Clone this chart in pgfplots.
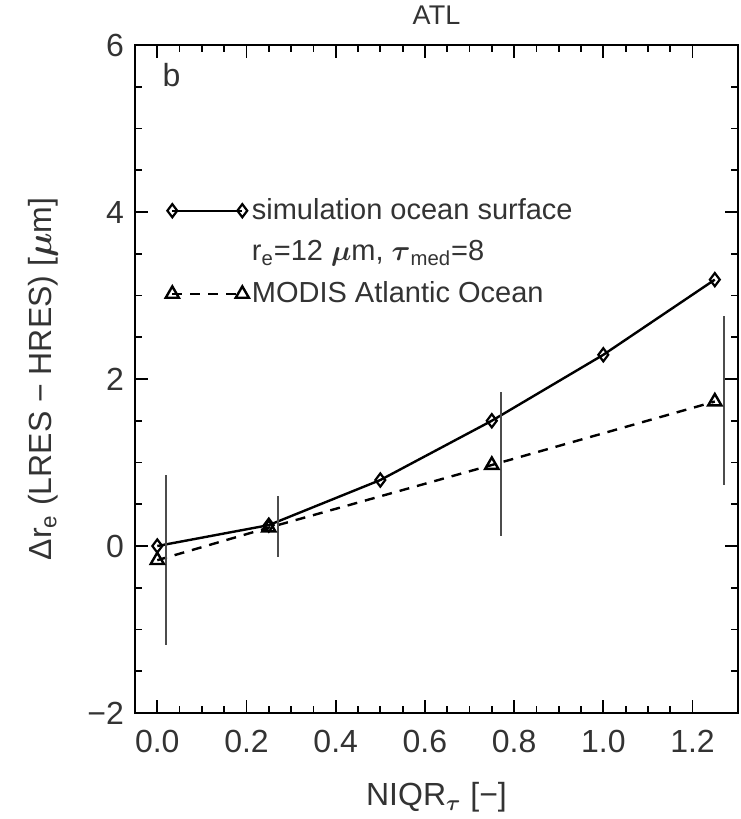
\documentclass[border=0pt]{standalone}
\usepackage{pgfplots}
\pgfplotsset{compat=1.18}
\usepackage{amsmath}
\usepackage{fontspec}
\setmainfont{Liberation Sans}
\usetikzlibrary{calc}
\begin{document}
\begin{tikzpicture}
\begin{axis}[
  scale only axis, width=301.5pt, height=334pt,
  xmin=-0.05, xmax=1.302, ymin=-2, ymax=6,
  xtick={0,0.2,0.4,0.6,0.8,1.0,1.2},
  xticklabels={0.0,0.2,0.4,0.6,0.8,1.0,1.2},
  ytick={-2,0,2,4,6}, yticklabels={−2,0,2,4,6},
  minor x tick num=3, minor y tick num=3,
  tick align=inside, major tick length=6.5pt, minor tick length=3.5pt,
  axis line style={line width=1pt},
  every tick/.style={black, line width=0.9pt},
  tick label style={font=\fontsize{16}{16}\selectfont, text=black!80},
  xticklabel style={yshift=-5pt},
  yticklabel style={xshift=-2pt},
  title={ATL},
  title style={font=\fontsize{13.5}{13.5}\selectfont, text=black!80, at={(axis description cs:0.5,1)}, anchor=south, inner sep=2pt, yshift=2pt},
  xlabel={NIQR$_{\boldsymbol{\tau}}$ [−]},
  ylabel={Δr\textsubscript{e} (LRES − HRES) [$\boldsymbol{\mu}$m]},
  every axis x label/.style={at={(axis description cs:0.5,0)}, anchor=center, yshift=-42pt, font=\fontsize{16}{16}\selectfont, text=black!80},
  every axis y label/.style={at={(axis description cs:0,0.5)}, anchor=center, rotate=90, yshift=46pt, font=\fontsize{16}{16}\selectfont, text=black!80},
  legend style={at={(axis cs:0.018,4.2)}, anchor=north west, draw=none, fill=none, inner sep=0pt,
    font=\fontsize{14.5}{16}\selectfont, text=black!80, row sep=6pt,
    nodes={inner sep=1.5pt}},
  legend cell align=left,
  legend image code/.code={\draw[mark repeat=1,mark phase=1,#1] plot coordinates {(0pt,0pt) (35pt,0pt)};},
]
\addplot[black, line width=1.2pt, mark=diamond, mark size=3.3pt, mark options={solid, line width=1.1pt, fill=white}]
  coordinates {(0,0.0) (0.25,0.25) (0.5,0.79) (0.75,1.50) (1.0,2.29) (1.25,3.19)};
\addlegendentry{simulation ocean surface}
\addlegendimage{empty legend}
\addlegendentry{r\textsubscript{e}=12 $\boldsymbol{\mu}$m, $\boldsymbol{\tau}_{\text{med}}$=8}
\addplot[black, line width=1.2pt, dash pattern=on 5pt off 4pt, mark=triangle, mark size=3.8pt, mark options={solid, line width=1.2pt}]
  coordinates {(0,-0.17) (0.25,0.22) (0.75,0.97) (1.25,1.73)};
\addlegendentry{MODIS Atlantic Ocean}
\addplot[forget plot, draw=none, mark=none,
  error bars/.cd, y dir=both, y explicit, error mark=none,
  error bar style={draw=black!70, line width=1pt, solid}]
  table[x=x, y=y, y error=e] {
x y e
0.020 -0.17 1.02
0.271 0.235 0.365
0.770 0.985 0.865
1.271 1.74 1.01
};
\node[anchor=west, font=\fontsize{16}{16}\selectfont, text=black!80] at (axis cs:-0.004,5.64) {b};
\end{axis}
\pgfresetboundingbox
\path ($(current axis.south west)+(-67.5pt,-53pt)$) rectangle ($(current axis.north east)+(1pt,22.5pt)$);
\end{tikzpicture}
\end{document}
